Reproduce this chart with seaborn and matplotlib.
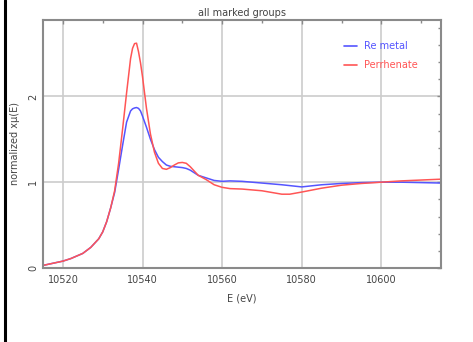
import numpy as np
import pandas as pd
import seaborn as sns
import matplotlib
matplotlib.use("Agg")
import matplotlib.pyplot as plt
from matplotlib.ticker import MultipleLocator
from matplotlib.lines import Line2D

# ---- data ----
energy = [10515, 10518, 10520, 10522, 10525, 10527, 10529, 10530, 10531, 10532,
          10533, 10534, 10535, 10536, 10537, 10537.5, 10538, 10538.5, 10539, 10539.5,
          10540, 10541, 10542, 10543, 10544, 10545, 10546, 10547, 10548, 10549,
          10550, 10551, 10552, 10553, 10554, 10556, 10558, 10560, 10562, 10565,
          10570, 10575, 10577, 10580, 10585, 10590, 10595, 10600, 10605, 10610,
          10615]

re_metal = [0.03, 0.06, 0.08, 0.11, 0.17, 0.24, 0.34, 0.42, 0.54, 0.70,
            0.88, 1.15, 1.43, 1.70, 1.83, 1.855, 1.865, 1.87, 1.86, 1.83,
            1.77, 1.64, 1.50, 1.38, 1.29, 1.24, 1.20, 1.185, 1.18, 1.175,
            1.17, 1.16, 1.14, 1.11, 1.08, 1.05, 1.02, 1.01, 1.015, 1.01,
            0.99, 0.97, 0.96, 0.945, 0.97, 0.985, 0.995, 1.0, 1.0, 0.995,
            0.99]

perrhenate = [0.03, 0.06, 0.08, 0.11, 0.17, 0.24, 0.34, 0.42, 0.54, 0.70,
              0.90, 1.22, 1.62, 2.04, 2.44, 2.56, 2.615, 2.62, 2.52, 2.39,
              2.23, 1.86, 1.56, 1.35, 1.22, 1.16, 1.15, 1.17, 1.20, 1.225,
              1.23, 1.22, 1.18, 1.13, 1.08, 1.03, 0.97, 0.94, 0.925, 0.92,
              0.90, 0.86, 0.86, 0.885, 0.93, 0.965, 0.985, 1.00, 1.015, 1.025,
              1.035]

series_names = ["Re metal", "Perrhenate"]
x_ticks = [10520, 10540, 10560, 10580, 10600]
y_ticks = [0, 1, 2]
title = "all marked groups"
x_label = "E (eV)"
y_label = "normalized x\u03bc(E)"

df = pd.DataFrame({
    "E": energy * 2,
    "mu": re_metal + perrhenate,
    "group": [series_names[0]] * len(energy) + [series_names[1]] * len(energy),
})

# ---- styling ----
sns.set_style("white")
plt.rcParams["font.family"] = ["DejaVu Sans"]
text_col = "#444444"
axis_col = "#8a8a8a"
grid_col = "#cccccc"
palette = {"Re metal": "#5555ff", "Perrhenate": "#ff5555"}

fig = plt.figure(figsize=(4.73, 3.42), dpi=100)
ax = fig.add_axes([0.0909, 0.2164, 0.8415, 0.7251])

sns.lineplot(data=df, x="E", y="mu", hue="group", palette=palette,
             linewidth=1.1, ax=ax, legend=False, sort=False)

ax.set_xlim(10515, 10615)
ax.set_ylim(0, 2.89)
ax.set_xticks(x_ticks)
ax.set_yticks(y_ticks)
ax.xaxis.set_minor_locator(MultipleLocator(10))
ax.yaxis.set_minor_locator(MultipleLocator(0.2))
ax.grid(True, which="major", color=grid_col, linewidth=1.2)
ax.set_axisbelow(True)

for s in ax.spines.values():
    s.set_color(axis_col)
    s.set_linewidth(1.5)

ax.tick_params(which="both", direction="in", top=True, right=True,
               colors=axis_col, labelcolor=text_col, labelsize=7)
ax.tick_params(which="major", length=3, width=1)
ax.tick_params(which="minor", length=2, width=1)
ax.tick_params(axis="x", pad=5)
for lab in ax.get_yticklabels():
    lab.set_rotation(90)
    lab.set_va("center")

ax.set_title(title, fontsize=7, color=text_col, pad=3)
ax.set_xlabel(x_label, fontsize=7, color=text_col, labelpad=6)
ax.set_ylabel(y_label, fontsize=7, color=text_col, labelpad=6)

handles = [Line2D([], [], color=palette[n], linewidth=1.2) for n in series_names]
leg = ax.legend(handles, series_names, loc="upper left",
                bbox_to_anchor=(0.735, 0.95), frameon=False, fontsize=7,
                handlelength=1.3, handletextpad=0.7, labelspacing=0.95,
                labelcolor="linecolor")

# black left border of the image
fig.add_artist(Line2D([0.0116, 0.0116], [0, 1], transform=fig.transFigure,
                      color="black", linewidth=2.2))

fig.savefig("out.png", dpi=100)
